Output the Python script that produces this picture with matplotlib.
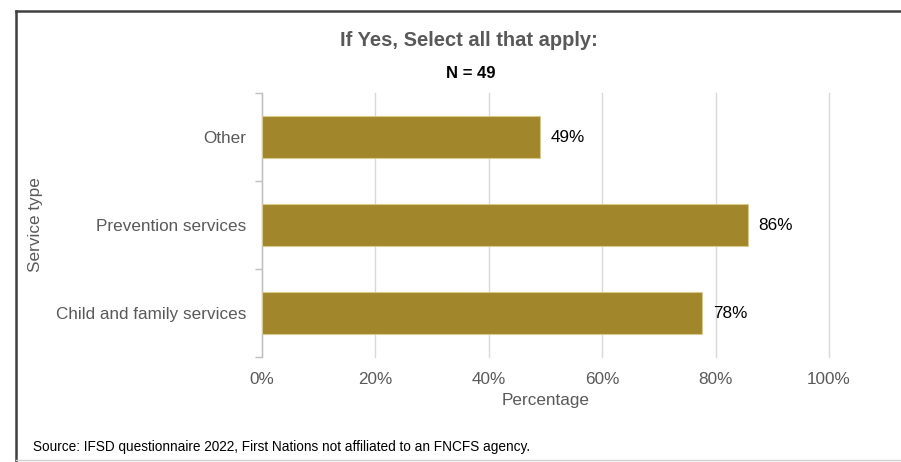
import matplotlib
matplotlib.use("Agg")
import matplotlib.pyplot as plt
from matplotlib.lines import Line2D
from matplotlib.ticker import FixedLocator, PercentFormatter

plt.rcParams['font.family'] = ['Liberation Sans', 'DejaVu Sans']

categories = ["Child and family services", "Prevention services", "Other"]
values = [77.6, 85.7, 49.0]
value_labels = ["78%", "86%", "49%"]
x_ticks = [0, 20, 40, 60, 80, 100]

W, H = 901, 462
fig = plt.figure(figsize=(W / 100, H / 100), dpi=100)
ax = fig.add_axes([262 / W, 1 - 357 / H, (829 - 262) / W, (357 - 93) / H])

bar_color = "#A2862C"
pos = list(range(len(categories)))
ax.barh(pos, values, height=0.47, color=bar_color, edgecolor="#D8C98F",
        linewidth=0.8, zorder=3)
for p, v, lab in zip(pos, values, value_labels):
    ax.text(v + 1.9, p, lab, va="center", ha="left", fontsize=12.3, color="#000000")

ax.set_xlim(0, 100)
ax.set_ylim(-0.5, len(categories) - 0.5)
ax.set_xticks(x_ticks)
ax.xaxis.set_major_formatter(PercentFormatter(decimals=0))
ax.set_yticks(pos)
ax.set_yticklabels(categories)
ax.yaxis.set_minor_locator(FixedLocator([-0.5, 0.5, 1.5, 2.5]))
ax.tick_params(axis="y", which="major", length=0, pad=11, labelsize=12.3, labelcolor="#595959")
ax.tick_params(axis="y", which="minor", length=5, color="#BFBFBF", width=1)
ax.tick_params(axis="x", which="major", length=0, pad=11, labelsize=12.3, labelcolor="#595959")

ax.grid(axis="x", color="#D9D9D9", linewidth=1, zorder=0)
ax.set_axisbelow(True)
for gl in ax.get_xgridlines():
    gl.set_clip_on(False)
for s in ["top", "right", "bottom"]:
    ax.spines[s].set_visible(False)
ax.spines["left"].set_color("#BFBFBF")
ax.spines["left"].set_linewidth(1)

ax.set_xlabel("Percentage", fontsize=12.3, color="#595959", labelpad=4)
ax.set_ylabel("Service type", fontsize=12.3, color="#595959", labelpad=0)
ax.yaxis.set_label_coords(-(262 - 43) / (829 - 262), 0.5)

fig.text(469 / W, 1 - 40 / H, "If Yes, Select all that apply:", ha="center", va="center",
         fontsize=14.5, fontweight="bold", color="#595959")
fig.text(471 / W, 1 - 73 / H, "N = 49", ha="center", va="center",
         fontsize=12, fontweight="bold", color="#000000")
fig.text(33 / W, 1 - 447 / H, "Source: IFSD questionnaire 2022, First Nations not affiliated to an FNCFS agency.",
         ha="left", va="center", fontsize=9.8, color="#000000")

# outer frame
fig.add_artist(Line2D([16 / W, 16 / W], [0, 1 - 11 / H], color="#404040", linewidth=1.8,
                      transform=fig.transFigure))
fig.add_artist(Line2D([16 / W, 1], [1 - 11 / H, 1 - 11 / H], color="#404040", linewidth=1.8,
                      transform=fig.transFigure))
fig.add_artist(Line2D([16 / W, 1], [1 - 460 / H, 1 - 460 / H], color="#D0D0D0", linewidth=1,
                      transform=fig.transFigure))

fig.savefig("out.png", dpi=100)
